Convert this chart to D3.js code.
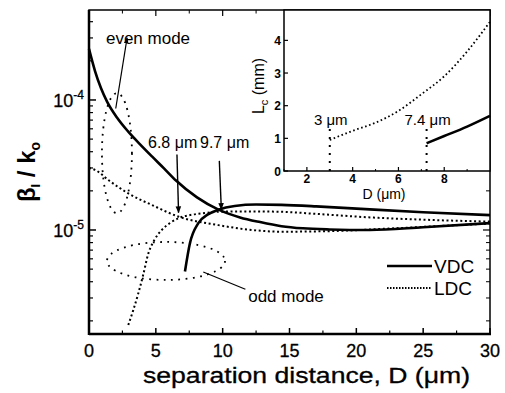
<!DOCTYPE html>
<html>
<head>
<meta charset="utf-8">
<script src="https://cdn.jsdelivr.net/npm/d3@7"></script>
<style>
  body { margin: 0; background: #fff; }
  svg { display: block; font-family: Arial, "Liberation Sans", sans-serif; }
</style>
</head>
<body>
<svg id="chart" width="505" height="393"></svg>
<script>
// main plot: beta_i / k0 vs separation distance D (um)
const vdcEvenD = [0, 0.45, 0.9, 1.35, 2.09, 2.92, 3.82, 4.71, 5.61, 6.51, 8.08, 9.65, 11.3, 12.8, 14.4, 16, 18, 21, 25, 30];
const vdcEven  = [2.47e-4, 1.67e-4, 1.23e-4, 9.72e-5, 7.33e-5, 5.73e-5, 4.56e-5, 3.68e-5, 2.98e-5, 2.40e-5, 1.78e-5, 1.44e-5, 1.25e-5, 1.15e-5, 1.07e-5, 1.03e-5, 1.01e-5, 1.0e-5, 1.05e-5, 1.13e-5];

const vdcOddD = [7.18, 7.55, 8.18, 8.9, 9.67, 10.9, 12.5, 14.4, 17, 21, 25, 30];
const vdcOdd  = [4.8e-6, 7.9e-6, 1.13e-5, 1.32e-5, 1.43e-5, 1.53e-5, 1.57e-5, 1.56e-5, 1.52e-5, 1.44e-5, 1.37e-5, 1.30e-5];

const ldcEvenD = [0, 0.45, 1.5, 2.94, 4.69, 6.67, 9.67, 12.2, 14.4, 18, 22, 26, 30];
const ldcEven  = [3.0e-5, 2.9e-5, 2.4e-5, 1.91e-5, 1.56e-5, 1.27e-5, 1.09e-5, 1.0e-5, 0.97e-5, 0.98e-5, 1.02e-5, 1.07e-5, 1.12e-5];

const ldcOddD = [2.94, 3.3, 3.69, 4.05, 4.44, 4.9, 5.44, 6.0, 6.68, 7.5, 8.43, 9.67, 12, 14.4, 17, 21, 25, 30];
const ldcOdd  = [1.86e-6, 2.4e-6, 3.26e-6, 4.5e-6, 6.6e-6, 8.4e-6, 1.0e-5, 1.12e-5, 1.23e-5, 1.3e-5, 1.34e-5, 1.38e-5, 1.39e-5, 1.38e-5, 1.33e-5, 1.25e-5, 1.2e-5, 1.16e-5];

const xTicks = [0, 5, 10, 15, 20, 25, 30];
const yDecades = [1e-5, 1e-4];

// inset: coupling length Lc (mm) vs D (um)
const insetLdcD = [3, 4, 5, 6, 7, 8, 9, 10];
const insetLdc  = [0.95, 1.23, 1.48, 1.84, 2.35, 2.9, 3.66, 4.57];
const insetVdcD = [7.23, 8, 9, 10];
const insetVdc  = [0.85, 1.07, 1.36, 1.69];
const insetXTicks = [2, 4, 6, 8];
const insetYTicks = [0, 1, 2, 3, 4];
const cutoffs = [{d: 3, top: 1.3, label: "3 \u03bcm"}, {d: 7.23, top: 1.4, label: "7.4 \u03bcm"}];

const svg = d3.select("#chart");
const plot = {left: 89, right: 490, top: 10, bottom: 334};

const x = d3.scaleLinear().domain([0, 30]).range([plot.left, plot.right]);
const y = d3.scaleLog().domain([1.585e-6, 4.92e-4]).range([plot.bottom, plot.top]);

const defs = svg.append("defs");
defs.append("marker").attr("id", "tip")
  .attr("viewBox", "0 0 10 10").attr("refX", 9).attr("refY", 5)
  .attr("markerWidth", 5).attr("markerHeight", 5).attr("orient", "auto")
  .append("path").attr("d", "M0,1 L10,5 L0,9 Z").attr("fill", "#000");

function zip(ds, vs) { return ds.map((d, i) => [d, vs[i]]); }

const line = d3.line().x(d => x(d[0])).y(d => y(d[1])).curve(d3.curveMonotoneX);

// curves
const curves = [
  {data: zip(vdcEvenD, vdcEven), dash: null},
  {data: zip(vdcOddD, vdcOdd), dash: null},
  {data: zip(ldcEvenD, ldcEven), dash: "2,2.6"},
  {data: zip(ldcOddD, ldcOdd), dash: "2,2.6"}
];
svg.append("g").selectAll("path").data(curves).join("path")
  .attr("d", c => line(c.data))
  .attr("fill", "none").attr("stroke", "#000")
  .attr("stroke-width", c => c.dash ? 2 : 2.6)
  .attr("stroke-dasharray", c => c.dash);

// frame + ticks
const ax = svg.append("g").attr("stroke", "#000");
ax.append("rect").attr("x", plot.left).attr("y", plot.top)
  .attr("width", plot.right - plot.left).attr("height", plot.bottom - plot.top)
  .attr("fill", "none").attr("stroke-width", 1.5);
ax.append("line").attr("x1", plot.left).attr("x2", plot.left)
  .attr("y1", plot.top).attr("y2", plot.bottom + 1).attr("stroke-width", 2.5);
ax.append("line").attr("x1", plot.left).attr("x2", plot.right + 1)
  .attr("y1", plot.bottom).attr("y2", plot.bottom).attr("stroke-width", 2.5);

const xMinor = d3.range(2.5, 30, 5);
xTicks.forEach(t => {
  ax.append("line").attr("x1", x(t)).attr("x2", x(t)).attr("y1", plot.bottom).attr("y2", plot.bottom - 6).attr("stroke-width", 1.5);
  ax.append("line").attr("x1", x(t)).attr("x2", x(t)).attr("y1", plot.top).attr("y2", plot.top + 6).attr("stroke-width", 1.2);
});
xMinor.forEach(t => {
  ax.append("line").attr("x1", x(t)).attr("x2", x(t)).attr("y1", plot.bottom).attr("y2", plot.bottom - 3.5).attr("stroke-width", 1.2);
  ax.append("line").attr("x1", x(t)).attr("x2", x(t)).attr("y1", plot.top).attr("y2", plot.top + 3.5).attr("stroke-width", 1);
});
const yMinor = [];
[1e-6, 1e-5, 1e-4].forEach(dec => d3.range(2, 10).forEach(k => {
  const v = k * dec;
  if (v > y.domain()[0] && v < y.domain()[1]) yMinor.push(v);
}));
yDecades.forEach(v => {
  ax.append("line").attr("x1", plot.left).attr("x2", plot.left + 7).attr("y1", y(v)).attr("y2", y(v)).attr("stroke-width", 1.5);
  ax.append("line").attr("x1", plot.right).attr("x2", plot.right - 7).attr("y1", y(v)).attr("y2", y(v)).attr("stroke-width", 1.2);
});
yMinor.forEach(v => {
  ax.append("line").attr("x1", plot.left).attr("x2", plot.left + 4).attr("y1", y(v)).attr("y2", y(v)).attr("stroke-width", 1.2);
  ax.append("line").attr("x1", plot.right).attr("x2", plot.right - 4).attr("y1", y(v)).attr("y2", y(v)).attr("stroke-width", 1);
});

// tick labels
svg.append("g").selectAll("text").data(xTicks).join("text")
  .attr("x", d => x(d)).attr("y", 357).attr("text-anchor", "middle")
  .attr("font-size", 18).attr("stroke", "#000").attr("stroke-width", 0.3).text(d => d);

yDecades.forEach(v => {
  const t = svg.append("text").attr("x", 84).attr("y", y(v) + 7).attr("text-anchor", "end")
    .attr("font-size", 18).attr("stroke", "#000").attr("stroke-width", 0.3);
  t.append("tspan").text("10");
  t.append("tspan").attr("dy", -8).attr("font-size", 12).text("-" + Math.round(-Math.log10(v)));
});

// axis titles
svg.append("text").attr("x", (plot.left + plot.right) / 2 + 17).attr("y", 383)
  .attr("text-anchor", "middle").attr("font-size", 22)
  .attr("stroke", "#000").attr("stroke-width", 0.3)
  .attr("textLength", 327).attr("lengthAdjust", "spacingAndGlyphs")
  .text("separation distance, D (\u03bcm)");

const yl = svg.append("text").attr("transform", "translate(35,172) rotate(-90)")
  .attr("text-anchor", "middle").attr("font-size", 24).attr("font-weight", "bold");
yl.append("tspan").text("\u03b2");
yl.append("tspan").attr("font-size", 13).attr("dy", 5).text("I");
yl.append("tspan").attr("dy", -5).text(" / k");
yl.append("tspan").attr("font-size", 14).attr("dy", 5).text("o");

// annotations
const ann = svg.append("g").attr("stroke", "#000").attr("fill", "none");
ann.append("ellipse").attr("cx", x(2.09)).attr("cy", y(3.9e-5)).attr("rx", 15).attr("ry", 60)
  .attr("stroke-width", 1.8).attr("stroke-dasharray", "1.8,5.5");
ann.append("ellipse").attr("cx", x(5.76)).attr("cy", y(5.78e-6)).attr("rx", 59).attr("ry", 19)
  .attr("stroke-width", 1.8).attr("stroke-dasharray", "1.8,5.5");
ann.append("line").attr("x1", x(2.0)).attr("y1", y(8.6e-5)).attr("x2", x(2.85)).attr("y2", y(3.0e-4))
  .attr("stroke-width", 1.2).attr("marker-end", "url(#tip)");
ann.append("line").attr("x1", x(8.55)).attr("y1", y(4.75e-6)).attr("x2", x(11.7)).attr("y2", y(3.5e-6))
  .attr("stroke-width", 1.2);
ann.append("line").attr("x1", x(6.58)).attr("y1", y(3.8e-5)).attr("x2", x(6.7)).attr("y2", y(1.36e-5))
  .attr("stroke-width", 1.4).attr("marker-end", "url(#tip)");
ann.append("line").attr("x1", x(9.75)).attr("y1", y(3.4e-5)).attr("x2", x(9.9)).attr("y2", y(1.44e-5))
  .attr("stroke-width", 1.4).attr("marker-end", "url(#tip)");

svg.append("text").attr("x", 148).attr("y", 44).attr("text-anchor", "middle").attr("font-size", 17).text("even mode");
svg.append("text").attr("x", 286).attr("y", 302).attr("text-anchor", "middle").attr("font-size", 17).text("odd mode");
svg.append("text").attr("x", 148).attr("y", 148).attr("font-size", 16).text("6.8 \u03bcm");
svg.append("text").attr("x", 200).attr("y", 148).attr("font-size", 16).text("9.7 \u03bcm");

// legend
const legend = [{label: "VDC", dash: null, y: 266}, {label: "LDC", dash: "1.5,1.5", y: 288}];
const lg = svg.append("g");
lg.selectAll("line").data(legend).join("line")
  .attr("x1", 387).attr("x2", 432).attr("y1", d => d.y).attr("y2", d => d.y)
  .attr("stroke", "#000").attr("stroke-width", d => d.dash ? 2 : 2.6)
  .attr("stroke-dasharray", d => d.dash);
lg.selectAll("text").data(legend).join("text")
  .attr("x", 434).attr("y", d => d.y + 7).attr("font-size", 19).text(d => d.label);

// inset
const inset = {left: 284, right: 490, top: 10, bottom: 171};
const ix = d3.scaleLinear().domain([1, 10]).range([inset.left, inset.right]);
const iy = d3.scaleLinear().domain([0, 4.93]).range([inset.bottom, inset.top]);
const ig = svg.append("g");
ig.append("rect").attr("x", inset.left).attr("y", inset.top)
  .attr("width", inset.right - inset.left).attr("height", inset.bottom - inset.top)
  .attr("fill", "#fff").attr("stroke", "#000").attr("stroke-width", 1.5);

const iline = d3.line().x(d => ix(d[0])).y(d => iy(d[1])).curve(d3.curveMonotoneX);
ig.append("path").attr("d", iline(zip(insetLdcD, insetLdc)))
  .attr("fill", "none").attr("stroke", "#000").attr("stroke-width", 1.8).attr("stroke-dasharray", "1.6,2.6");
ig.append("path").attr("d", iline(zip(insetVdcD, insetVdc)))
  .attr("fill", "none").attr("stroke", "#000").attr("stroke-width", 2.6);
ig.selectAll("line.cut").data(cutoffs).join("line").attr("class", "cut")
  .attr("x1", d => ix(d.d)).attr("x2", d => ix(d.d)).attr("y1", iy(0)).attr("y2", d => iy(d.top))
  .attr("stroke", "#000").attr("stroke-width", 2).attr("stroke-dasharray", "2,6");
ig.selectAll("text.cut").data(cutoffs).join("text").attr("class", "cut")
  .attr("x", d => ix(d.d) + 1).attr("y", 125).attr("text-anchor", "middle").attr("font-size", 15)
  .text(d => d.label);

insetXTicks.forEach(t => {
  ig.append("line").attr("x1", ix(t)).attr("x2", ix(t)).attr("y1", inset.bottom).attr("y2", inset.bottom - 4)
    .attr("stroke", "#000").attr("stroke-width", 1.2);
});
d3.range(1, 10, 2).forEach(t => {
  ig.append("line").attr("x1", ix(t)).attr("x2", ix(t)).attr("y1", inset.bottom).attr("y2", inset.bottom - 2)
    .attr("stroke", "#000").attr("stroke-width", 1);
});
insetYTicks.forEach(t => {
  ig.append("line").attr("x1", inset.left).attr("x2", inset.left + 4).attr("y1", iy(t)).attr("y2", iy(t))
    .attr("stroke", "#000").attr("stroke-width", 1.2);
});
ig.selectAll("text.xt").data(insetXTicks).join("text").attr("class", "xt")
  .attr("x", d => ix(d)).attr("y", 183).attr("text-anchor", "middle")
  .attr("font-size", 12).attr("font-weight", "bold").text(d => d);
ig.selectAll("text.yt").data(insetYTicks).join("text").attr("class", "yt")
  .attr("x", 281).attr("y", d => iy(d) + 4.5).attr("text-anchor", "end")
  .attr("font-size", 12).attr("font-weight", "bold").text(d => d);
ig.append("text").attr("x", 384).attr("y", 199).attr("text-anchor", "middle").attr("font-size", 14)
  .text("D (\u03bcm)");
const ilt = ig.append("text").attr("transform", "translate(264,86) rotate(-90)")
  .attr("text-anchor", "middle").attr("font-size", 16);
ilt.append("tspan").text("L");
ilt.append("tspan").attr("font-size", 11).attr("dy", 4).text("c");
ilt.append("tspan").attr("dy", -4).text(" (mm)");
</script>
</body>
</html>
